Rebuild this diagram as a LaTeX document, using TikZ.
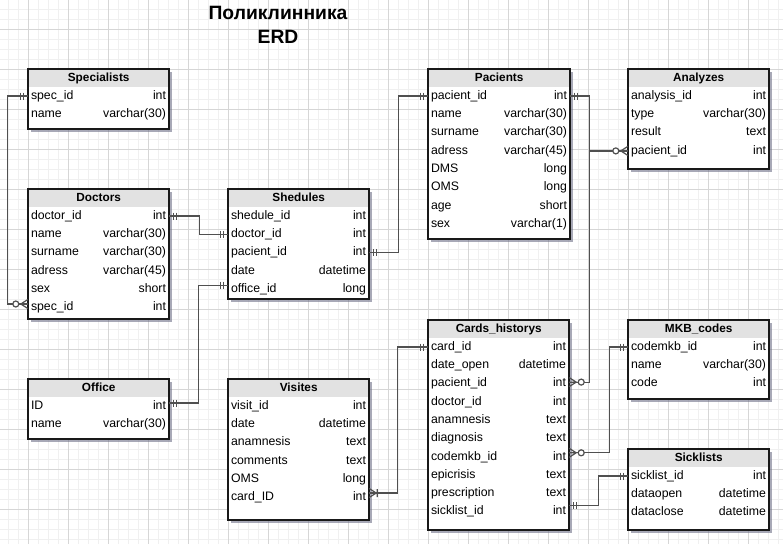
\documentclass[tikz,border=0pt]{standalone}
\usepackage{fontspec}
\setmainfont{Liberation Sans}
\usetikzlibrary{shadows}
\definecolor{gridmaj}{RGB}{214,214,214}
\definecolor{gridmin}{RGB}{240,240,240}
\definecolor{hdr}{RGB}{226,226,226}
\definecolor{bord}{RGB}{25,25,25}
\definecolor{connc}{RGB}{80,80,80}
\definecolor{shad}{RGB}{110,112,135}
\tikzset{
  tbox/.style={anchor=north west, fill=white, inner sep=0pt,
    drop shadow={shadow xshift=3pt, shadow yshift=-3pt, fill=shad, opacity=0.6}},
  thead/.style={anchor=north west, fill=hdr, inner sep=0pt, minimum height=18pt,
    text height=9.5pt, text depth=2.5pt, font=\bfseries\fontsize{11.8}{13}\selectfont},
  trow/.style={anchor=center, inner xsep=3pt, inner ysep=0pt, text height=9.5pt,
    text depth=3pt, align=left, font=\fontsize{12.3}{14}\selectfont},
  tborder/.style={draw=bord, line width=2pt},
  conn/.style={draw=connc, line width=1.2pt},
  titletext/.style={anchor=base, font=\bfseries\fontsize{19.3}{22}\selectfont, text=black},
  pics/one/.style={code={\draw[conn] (4,-3.5)--(4,3.5) (7,-3.5)--(7,3.5);}},
  pics/zmany/.style={code={\draw[conn] (0,-4.5)--(7,0)--(0,4.5) (0,0)--(7,0);
      \draw[conn, fill=white] (12,0) circle[radius=3];}},
  pics/omany/.style={code={\draw[conn] (0,-4.5)--(7,0)--(0,4.5) (0,0)--(7,0) (8,-4)--(8,4);}},
}
\newcommand\erdtable[7]{%
  \pgfmathsetmacro\erdw{#4-#2}%
  \pgfmathsetmacro\erdh{#5-#3}%
  \pgfmathsetmacro\erdtw{#4-#2-6}%
  \pgfmathsetmacro\erdcx{(#2+#4)/2}%
  \node[tbox, minimum width=\erdw pt, minimum height=\erdh pt] (#1) at (#2,#3) {};
  \node[thead, minimum width=\erdw pt] (#1-h) at (#2,#3) {#6};
  \foreach \f/\t [count=\i] in {#7}{%
    \node[trow, text width=\erdtw pt] (#1-\i) at (\erdcx,{#3+27+18.3*(\i-1)}) {\f\hfill\t};
  }
  \draw[tborder] (#1.north west) rectangle (#1.south east);
}
\begin{document}
\begin{tikzpicture}[x=1pt,y=-1pt]
\useasboundingbox (0,0) rectangle (783,544);
\fill[white] (0,0) rectangle (783,544);
% grid
\foreach \x in {8,18,...,778} \draw[gridmin, line width=0.8pt] (\x,0) -- (\x,544);
\foreach \y in {9,19,...,539} \draw[gridmin, line width=0.8pt] (0,\y) -- (783,\y);
\foreach \x in {28,68,...,748} \draw[gridmaj, line width=0.8pt] (\x,0) -- (\x,544);
\foreach \y in {29,69,...,509} \draw[gridmaj, line width=0.8pt] (0,\y) -- (783,\y);
% title
\node[titletext] (t1) at (278,19) {Поликлинника};
\node[titletext] (t2) at (278,43) {ERD};
% tables
\erdtable{spec}{28}{69}{169}{129}{Specialists}{spec\_id/int, name/varchar(30)}
\erdtable{doc}{28}{189}{169}{319}{Doctors}{doctor\_id/int, name/varchar(30), surname/varchar(30), adress/varchar(45), sex/short, spec\_id/int}
\erdtable{shed}{228}{189}{369}{299}{Shedules}{shedule\_id/int, doctor\_id/int, pacient\_id/int, date/datetime, office\_id/long}
\erdtable{office}{28}{379}{169}{439}{Office}{ID/int, name/varchar(30)}
\erdtable{vis}{228}{379}{369}{520}{Visites}{visit\_id/int, date/datetime, anamnesis/text, comments/text, OMS/long, card\_ID/int}
\erdtable{pac}{428}{69}{570}{239}{Pacients}{pacient\_id/int, name/varchar(30), surname/varchar(30), adress/varchar(45), DMS/long, OMS/long, age/short, sex/varchar(1)}
\erdtable{anal}{628}{69}{769}{169}{Analyzes}{analysis\_id/int, type/varchar(30), result/text, pacient\_id/int}
\erdtable{card}{428}{320}{569}{530}{Cards\_historys}{card\_id/int, date\_open/datetime, pacient\_id/int, doctor\_id/int, anamnesis/text, diagnosis/text, codemkb\_id/int, epicrisis/text, prescription/text, sicklist\_id/int}
\erdtable{mkb}{628}{320}{769}{399}{MKB\_codes}{codemkb\_id/int, name/varchar(30), code/int}
\erdtable{sick}{628}{449}{769}{530}{Sicklists}{sicklist\_id/int, dataopen/datetime, dataclose/datetime}
% connectors
\draw[conn] (spec-1.west) -- ++(-20,0) |- ([yshift=3.5pt]doc-6.west);
\draw[conn] (doc-1.east) -- ++(30,0) |- (shed-2.west);
\draw[conn] (shed-3.east) -- ++(29,0) |- (pac-1.west);
\draw[conn] ([yshift=4pt]shed-5.west) -- ++(-29,0) |- ([yshift=3pt]office-1.east);
\draw[conn] (pac-1.east) -- ++(19,0) coordinate (j1) |- (anal-4.west);
\draw[conn] (j1) |- ([yshift=1.5pt]card-3.east);
\draw[conn] (card-1.west) -- ++(-30,0) |- ([yshift=4.5pt]vis-6.east);
\draw[conn] ([yshift=4pt]card-7.east) -- ++(40,0) |- (mkb-1.west);
\draw[conn] ([yshift=6pt]card-10.east) -- ++(29,0) |- (sick-1.west);
% end marks
\pic[xscale=-1] at (spec-1.west) {one};
\pic[xscale=-1] at ([yshift=3.5pt]doc-6.west) {zmany};
\pic at (doc-1.east) {one};
\pic[xscale=-1] at (shed-2.west) {one};
\pic at (shed-3.east) {one};
\pic[xscale=-1] at (pac-1.west) {one};
\pic[xscale=-1] at ([yshift=4pt]shed-5.west) {one};
\pic at ([yshift=3pt]office-1.east) {one};
\pic at (pac-1.east) {one};
\pic[xscale=-1] at (anal-4.west) {zmany};
\pic at ([yshift=1.5pt]card-3.east) {zmany};
\pic[xscale=-1] at (card-1.west) {one};
\pic at ([yshift=4.5pt]vis-6.east) {omany};
\pic at ([yshift=4pt]card-7.east) {zmany};
\pic[xscale=-1] at (mkb-1.west) {one};
\pic at ([yshift=6pt]card-10.east) {one};
\pic[xscale=-1] at (sick-1.west) {one};
\end{tikzpicture}
\end{document}
